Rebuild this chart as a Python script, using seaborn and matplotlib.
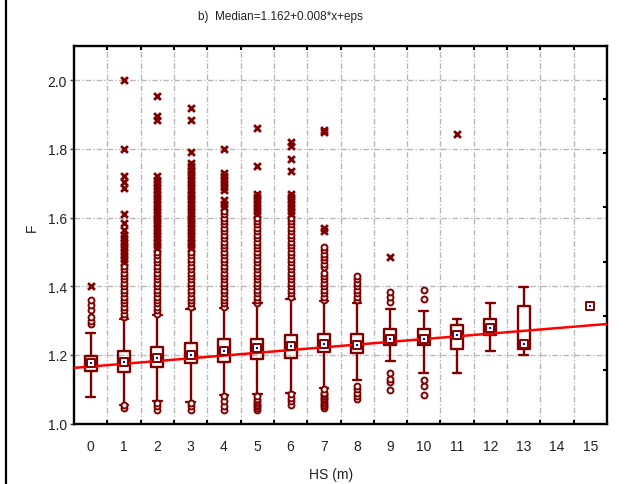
import numpy as np
import pandas as pd
import matplotlib
matplotlib.use("Agg")
import matplotlib.pyplot as plt
import seaborn as sns
from matplotlib.lines import Line2D

# ---------------- data ----------------
categories = list(range(16))
has_box = [True] * 14 + [False, False]          # 14: no data, 15: single median only
q1   = [1.152, 1.151, 1.165, 1.175, 1.180, 1.187, 1.192, 1.209, 1.204, 1.228, 1.228, 1.217, 1.257, 1.217]
q3   = [1.198, 1.211, 1.224, 1.235, 1.246, 1.246, 1.257, 1.262, 1.262, 1.275, 1.275, 1.287, 1.304, 1.343]
wlo  = [1.078, 1.053, 1.065, 1.063, 1.083, 1.085, 1.090, 1.104, 1.128, 1.182, 1.146, 1.146, 1.211, 1.199]
whi  = [1.264, 1.304, 1.316, 1.335, 1.338, 1.350, 1.364, 1.357, 1.350, 1.333, 1.327, 1.304, 1.350, 1.397]
median_cat = [0, 1, 2, 3, 4, 5, 6, 7, 8, 9, 10, 11, 12, 13, 15]
median_val = [1.175, 1.180, 1.190, 1.200, 1.210, 1.219, 1.227, 1.233, 1.230, 1.245, 1.245,
              1.259, 1.277, 1.231, 1.342]

outliers = {
    0: [1.29, 1.30, 1.31, 1.33, 1.345, 1.36],
    1: [1.045, 1.055, 1.31, 1.32, 1.33, 1.34, 1.35, 1.36, 1.37, 1.38, 1.39, 1.40, 1.41,
        1.42, 1.43, 1.44, 1.45, 1.46],
    2: [1.04, 1.05, 1.06, 1.32, 1.33, 1.34, 1.35, 1.36, 1.37, 1.38, 1.39, 1.40, 1.41,
        1.42, 1.43, 1.44, 1.45, 1.46, 1.47, 1.48, 1.49, 1.50],
    3: [1.04, 1.05, 1.06, 1.34, 1.35, 1.36, 1.37, 1.38, 1.39, 1.40, 1.41, 1.42, 1.43,
        1.44, 1.45, 1.46, 1.47, 1.48, 1.49, 1.50],
    4: [1.04, 1.05, 1.065, 1.08, 1.34, 1.35, 1.36, 1.37, 1.38, 1.39, 1.40, 1.41, 1.42,
        1.43, 1.44, 1.45, 1.46, 1.47, 1.48, 1.49, 1.50, 1.51, 1.52, 1.53, 1.54, 1.55,
        1.56, 1.57, 1.58, 1.59, 1.60, 1.61, 1.62],
    5: [1.04, 1.045, 1.05, 1.055, 1.06, 1.065, 1.07, 1.08, 1.35, 1.36, 1.37, 1.38, 1.39,
        1.40, 1.41, 1.42, 1.43, 1.44, 1.45, 1.46, 1.47, 1.48, 1.49, 1.50, 1.51, 1.52,
        1.53, 1.54, 1.55, 1.56, 1.57, 1.58, 1.59, 1.60],
    6: [1.055, 1.065, 1.075, 1.085, 1.37, 1.38, 1.39, 1.40, 1.41, 1.42, 1.43, 1.44, 1.45,
        1.46, 1.47, 1.48, 1.49, 1.50, 1.51, 1.52, 1.53, 1.54, 1.55, 1.56, 1.57, 1.58,
        1.59, 1.60],
    7: [1.045, 1.05, 1.055, 1.06, 1.065, 1.07, 1.075, 1.08, 1.085, 1.09, 1.10, 1.36,
        1.37, 1.38, 1.39, 1.40, 1.41, 1.42, 1.43, 1.44, 1.455, 1.465, 1.475, 1.485,
        1.495, 1.505, 1.515],
    8: [1.07, 1.08, 1.09, 1.10, 1.11, 1.36, 1.37, 1.38, 1.39, 1.40, 1.41, 1.42, 1.43],
    9: [1.097, 1.12, 1.131, 1.146, 1.355, 1.369, 1.384],
    10: [1.083, 1.11, 1.126, 1.362, 1.389],
}
extremes = {
    0: [1.40],
    1: [1.47, 1.48, 1.49, 1.50, 1.51, 1.52, 1.53, 1.54, 1.55, 1.565, 1.585, 1.61, 1.685,
        1.705, 1.72, 1.80, 2.00],
    2: [1.51, 1.52, 1.53, 1.54, 1.55, 1.56, 1.57, 1.58, 1.59, 1.60, 1.61, 1.62, 1.63,
        1.64, 1.65, 1.66, 1.67, 1.68, 1.69, 1.70, 1.71, 1.72, 1.885, 1.895, 1.955],
    3: [1.51, 1.52, 1.53, 1.54, 1.55, 1.56, 1.57, 1.58, 1.59, 1.60, 1.61, 1.62, 1.63,
        1.64, 1.65, 1.66, 1.67, 1.68, 1.69, 1.70, 1.71, 1.72, 1.73, 1.74, 1.75, 1.76,
        1.79, 1.885, 1.92],
    4: [1.63, 1.64, 1.65, 1.68, 1.69, 1.70, 1.71, 1.72, 1.73, 1.80],
    5: [1.61, 1.62, 1.63, 1.64, 1.65, 1.66, 1.67, 1.75, 1.86],
    6: [1.61, 1.62, 1.63, 1.64, 1.65, 1.66, 1.67, 1.735, 1.77, 1.81, 1.82],
    7: [1.56, 1.57, 1.85, 1.855],
    9: [1.486],
    11: [1.843],
}

reg_intercept = 1.162
reg_slope = 0.008
right_ticks = [1.156, 1.313, 1.470, 1.630, 1.787, 1.945]

title = "b)  Median=1.162+0.008*x+eps"
xlabel = "HS (m)"
ylabel = "F"

# ---------------- style ----------------
sns.set_theme(style="white")
plt.rcParams["font.family"] = ["Liberation Sans", "DejaVu Sans"]
DARK = "#800000"
TXT = "#222222"

fig = plt.figure(figsize=(6.31, 4.85), dpi=100)
ax = fig.add_axes([74 / 631, 1 - 424.5 / 485, 533 / 631, 377.5 / 485])

# boxes
stats = []
pos = []
for c, hb in zip(categories, has_box):
    if not hb:
        continue
    i = len(stats)
    stats.append(dict(q1=q1[i], q3=q3[i], med=q1[i], whislo=wlo[i], whishi=whi[i], fliers=[]))
    pos.append(c)
lp = dict(color=DARK, linewidth=1.7)
ax.bxp(stats, positions=pos, widths=0.36, capwidths=0.26, showfliers=False,
       boxprops=lp, whiskerprops=lp, capprops=lp,
       medianprops=dict(linewidth=0), manage_ticks=False, zorder=2)

# regression line
xs = np.array([-0.5, 15.5])
reg = pd.DataFrame({"x": xs, "y": reg_intercept + reg_slope * (xs + 0.5)})
sns.lineplot(data=reg, x="x", y="y", ax=ax, color="#ff0000", linewidth=1.8, zorder=3)

# outliers (circles) and extremes (crosses)
o_df = pd.DataFrame([(c, v) for c, vals in outliers.items() for v in vals], columns=["x", "y"])
e_df = pd.DataFrame([(c, v) for c, vals in extremes.items() for v in vals], columns=["x", "y"])
sns.scatterplot(data=o_df, x="x", y="y", ax=ax, marker="o", s=18, facecolor="white",
                edgecolor=DARK, linewidth=1.4, zorder=4)
sns.scatterplot(data=e_df, x="x", y="y", ax=ax, marker="x", s=24, color=DARK,
                linewidth=2.0, zorder=4)

# medians
m_df = pd.DataFrame({"x": median_cat, "y": median_val})
sns.scatterplot(data=m_df, x="x", y="y", ax=ax, marker="s", s=30, facecolor="white",
                edgecolor=DARK, linewidth=1.4, zorder=5)
sns.scatterplot(data=m_df, x="x", y="y", ax=ax, marker="s", s=4, color="#0000ff",
                linewidth=0, zorder=6)

# axes
ax.set_xlim(-0.5, 15.5)
ax.set_ylim(1.0, 2.1)
ax.set_xticks(categories)
ax.set_xticklabels([str(c) for c in categories], fontsize=10, color=TXT)
ax.set_xticks(np.arange(0.5, 15.5, 1.0), minor=True)
yt = np.arange(1.0, 2.01, 0.2)
ax.set_yticks(yt)
ax.set_yticklabels([f"{v:.1f}" for v in yt], fontsize=10, color=TXT)
ax.tick_params(axis="x", which="major", length=0, pad=11)
ax.tick_params(axis="x", which="minor", direction="in", length=3, width=1.5,
               top=True, bottom=True, color="black")
ax.tick_params(axis="y", which="major", direction="out", length=3, width=1, left=True,
               color="#444444", pad=2)

gstyle = dict(color="#b8b8b8", linewidth=1.0, linestyle=(0, (4, 1.5, 1, 1.5)))
ax.grid(False)
ax.xaxis.grid(True, which="minor", **gstyle)
ax.yaxis.grid(True, which="major", **gstyle)
ax.set_axisbelow(True)
for s in ax.spines.values():
    s.set_visible(True)
    s.set_color("black")
    s.set_linewidth(1.7)

ax2 = ax.twinx()
ax2.set_ylim(1.0, 2.1)
ax2.set_yticks(right_ticks)
ax2.set_yticklabels([])
ax2.tick_params(axis="y", direction="in", length=3, width=1.5, right=True, color="black")
ax2.grid(False)
for s in ax2.spines.values():
    s.set_visible(False)

ax.set_xlabel(xlabel, fontsize=10, color=TXT, va="center")
ax.set_ylabel(ylabel, fontsize=10, color=TXT, va="center")
ax.xaxis.set_label_coords((331 - 74) / 533, (424.5 - 475) / 377.5)
ax.yaxis.set_label_coords((32 - 74) / 533, 0.52)

fig.text(280 / 631, 1 - 17 / 485, title, ha="center", va="center", fontsize=8.5,
         color=TXT)
fig.add_artist(Line2D([6 / 631, 6 / 631], [0, 1], color="black", linewidth=1.6,
                      transform=fig.transFigure))

fig.savefig("out.png", dpi=100)
